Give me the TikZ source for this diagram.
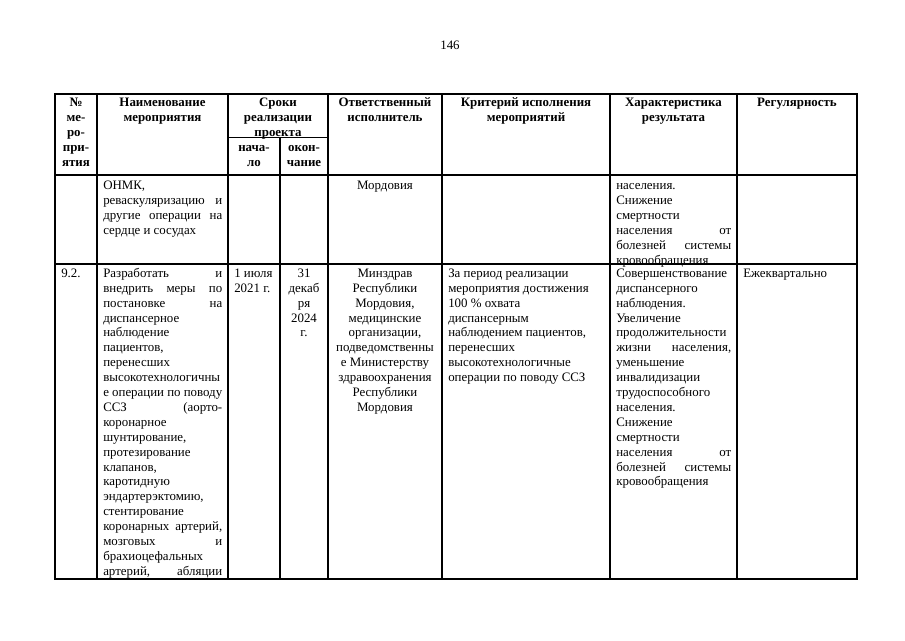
\documentclass[tikz,border=0pt]{standalone}
\usepackage{fontspec}
\setmainfont{Liberation Serif}
\newlength\wA \setlength\wA{89.25pt}
\newlength\wB \setlength\wB{86.25pt}
\newcommand\JA[1]{\makebox[\wA][s]{#1}}
\newcommand\JB[1]{\makebox[\wB][s]{#1}}
\tikzset{
  txt/.style={inner sep=0pt, font=\fontsize{9.68pt}{11.18pt}\selectfont, align=left, anchor=north west},
  ctxt/.style={txt, align=center, anchor=north},
  hd/.style={ctxt, font=\fontsize{9.68pt}{11.18pt}\selectfont\bfseries},
  rule/.style={line width=0.9pt, black}
}
\begin{document}
\begin{tikzpicture}[x=0.75pt, y=-0.75pt]
\useasboundingbox (0,0) rectangle (905,640);
\fill[white] (0,0) rectangle (905,640);
% page number
\node[ctxt] (pnum) at (450,38.57) {\strut 146};
% grid
\draw[rule] (55,94) rectangle (857,579);
\foreach \x in {97,228,328,442,610,737} \draw[rule] (\x,94) -- (\x,579);
\draw[rule] (280,137.5) -- (280,579);
\draw[rule] (228,137.5) -- (328,137.5);
\draw[rule] (55,175) -- (857,175);
\draw[rule] (55,264) -- (857,264);
% header
\node[hd] (h1) at (76,96) {\strut №\\ме-\\ро-\\при-\\ятия};
\node[hd] (h2) at (162.5,96) {\strut Наименование\\мероприятия};
\node[hd] (h3) at (278,96) {\strut Сроки\\реализации\\проекта};
\node[hd] (h3a) at (254,140.5) {\strut нача-\\ло};
\node[hd] (h3b) at (304,140.5) {\strut окон-\\чание};
\node[hd] (h4) at (385,96) {\strut Ответственный\\исполнитель};
\node[hd] (h5) at (526,96) {\strut Критерий исполнения\\мероприятий};
\node[hd] (h6) at (673.5,96) {\strut Характеристика\\результата};
\node[hd] (h7) at (797,96) {\strut Регулярность};
% row 1 (continuation)
\node[txt] (a2) at (103,179.2) {\strut ОНМК,\\\JA{реваскуляризацию и}\\\JA{другие операции на}\\сердце и сосудах};
\node[ctxt] (a5) at (385,179.2) {\strut Мордовия};
\node[txt] (a7) at (616,179.2) {\strut населения.\\Снижение\\смертности\\\JB{населения от}\\\JB{болезней системы}\\кровообращения};
% row 2
\node[txt] (b1) at (61,266.57) {\strut 9.2.};
\node[txt] (b2) at (103,266.57) {\strut\JA{Разработать и}\\\JA{внедрить меры по}\\\JA{постановке на}\\диспансерное\\наблюдение\\пациентов,\\перенесших\\высокотехнологичны\\\JA{е операции по поводу}\\\JA{ССЗ (аорто-}\\коронарное\\шунтирование,\\протезирование\\клапанов,\\каротидную\\эндартерэктомию,\\стентирование\\\JA{коронарных артерий,}\\\JA{мозговых и}\\брахиоцефальных\\\JA{артерий, абляции}};
\node[txt] (b3) at (234,266.57) {\strut 1 июля\\2021 г.};
\node[ctxt] (b4) at (304,266.57) {\strut 31\\декаб\\ря\\2024\\г.};
\node[ctxt] (b5) at (385,266.57) {\strut Минздрав\\Республики\\Мордовия,\\медицинские\\организации,\\подведомственны\\е Министерству\\здравоохранения\\Республики\\Мордовия};
\node[txt] (b6) at (448,266.57) {\strut За период реализации\\мероприятия достижения\\100 \% охвата\\диспансерным\\наблюдением пациентов,\\перенесших\\высокотехнологичные\\операции по поводу ССЗ};
\node[txt] (b7) at (616,266.57) {\strut Совершенствование\\диспансерного\\наблюдения.\\Увеличение\\продолжительности\\\JB{жизни населения,}\\уменьшение\\инвалидизации\\трудоспособного\\населения.\\Снижение\\смертности\\\JB{населения от}\\\JB{болезней системы}\\кровообращения};
\node[txt] (b8) at (743,266.57) {\strut Ежеквартально};
\end{tikzpicture}
\end{document}
